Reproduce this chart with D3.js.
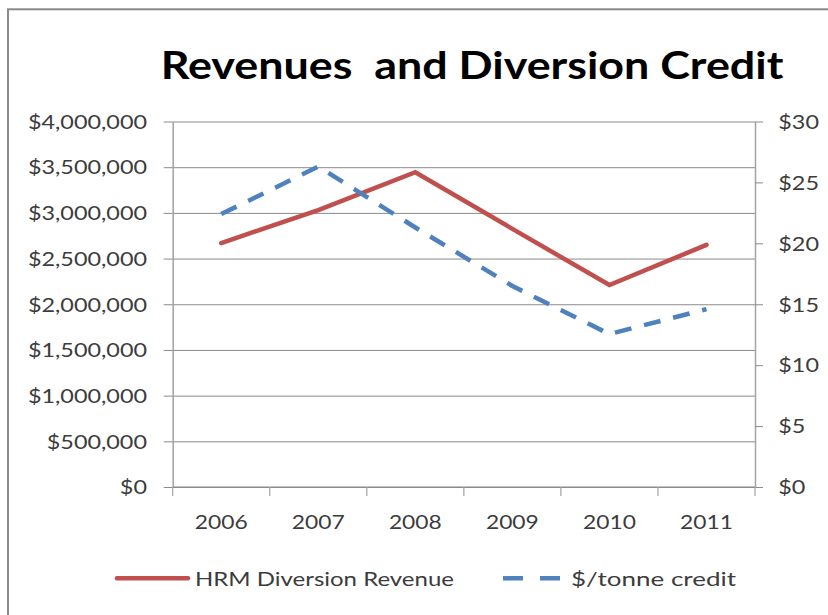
<!DOCTYPE html>
<html>
<head>
<meta charset="utf-8">
<script src="https://cdn.jsdelivr.net/npm/d3@7"></script>
<style>
  html, body { margin: 0; padding: 0; background: #fff; }
  svg { display: block; }
  text { font-family: Lato, "Open Sans", sans-serif; }
</style>
</head>
<body>
<svg id="chart" width="828" height="615"></svg>
<script>
// Chart data
const categories = ["2006", "2007", "2008", "2009", "2010", "2011"];
const revenue = [2670000, 3030000, 3445000, 2825000, 2210000, 2650000];   // HRM Diversion Revenue ($)
const credit = [22.4, 26.3, 21.3, 16.5, 12.55, 14.6];                     // $/tonne credit
const leftTicks = [0, 500000, 1000000, 1500000, 2000000, 2500000, 3000000, 3500000, 4000000];
const rightTicks = [0, 5, 10, 15, 20, 25, 30];
const seriesNames = ["HRM Diversion Revenue", "$/tonne credit"];
const titleText = "Revenues  and Diversion Credit";

const W = 828, H = 615;
const plot = { left: 172.7, right: 755, top: 121.5, bottom: 487 };
const stretch = 1.2;            // horizontal text widening
const axisGrey = "#a3a3a3", gridGrey = "#8a8a8a", labelColor = "#3c3c3c";
const red = "#c0504d", blue = "#4f81bd";

const svg = d3.select("#chart");
svg.append("rect").attr("width", W).attr("height", H).attr("fill", "#fff");

// outer frame
svg.append("rect")
  .attr("x", 8).attr("y", 9.3).attr("width", 840).attr("height", 640)
  .attr("fill", "none").attr("stroke", "#8a8a8a").attr("stroke-width", 2);

// scales
const x = d3.scaleBand().domain(categories).range([plot.left, plot.right]);
const cx = c => x(c) + x.bandwidth() / 2;
const yL = d3.scaleLinear().domain([0, 4000000]).range([plot.bottom, plot.top]);
const yR = d3.scaleLinear().domain([0, 30]).range([plot.bottom, plot.top]);

// gridlines
svg.append("g")
  .attr("transform", `translate(${plot.left},0)`)
  .call(d3.axisLeft(yL).tickValues(leftTicks).tickSize(-(plot.right - plot.left)).tickFormat(""))
  .call(g => g.select(".domain").remove())
  .call(g => g.selectAll("line").attr("stroke", gridGrey).attr("stroke-width", 1));

// left axis
const fmtL = d3.format("$,");
svg.append("g")
  .attr("transform", `translate(${plot.left},0)`)
  .call(d3.axisLeft(yL).tickValues(leftTicks).tickSize(9).tickSizeOuter(0).tickFormat(fmtL))
  .call(g => g.select(".domain").attr("stroke", axisGrey).attr("stroke-width", 1.5))
  .call(g => g.selectAll(".tick line").attr("stroke", gridGrey))
  .call(g => g.selectAll(".tick text")
    .attr("x", 0).attr("dy", null)
    .attr("transform", `translate(-25.7,6.8) scale(${stretch},1)`)
    .attr("fill", labelColor).attr("font-size", 19.5).attr("text-anchor", "end"));

// right axis
svg.append("g")
  .attr("transform", `translate(${plot.right},0)`)
  .call(d3.axisRight(yR).tickValues(rightTicks).tickSize(8).tickSizeOuter(0).tickFormat(d => "$" + d))
  .call(g => g.select(".domain").attr("stroke", axisGrey).attr("stroke-width", 1.5))
  .call(g => g.selectAll(".tick line").attr("stroke", gridGrey))
  .call(g => g.selectAll(".tick text")
    .attr("x", 0).attr("dy", null)
    .attr("transform", `translate(23.3,6.8) scale(${stretch},1)`)
    .attr("fill", labelColor).attr("font-size", 19.5).attr("text-anchor", "start"));

// bottom axis: line, boundary ticks, centered labels
const xAxis = svg.append("g").attr("transform", `translate(0,${plot.bottom})`);
xAxis.append("line")
  .attr("x1", plot.left).attr("x2", plot.right)
  .attr("stroke", gridGrey).attr("stroke-width", 1.2);
const bounds = categories.map(c => x(c)).concat([plot.right]);
xAxis.selectAll("line.bt").data(bounds).join("line")
  .attr("class", "bt")
  .attr("x1", d => d).attr("x2", d => d).attr("y1", 0).attr("y2", 9)
  .attr("stroke", axisGrey).attr("stroke-width", 1.2);
xAxis.selectAll("text").data(categories).join("text")
  .attr("transform", d => `translate(${cx(d)},42) scale(${stretch},1)`)
  .attr("text-anchor", "middle").attr("font-size", 19)
  .attr("fill", labelColor).text(d => d);

// series lines
const lineL = d3.line().x((d, i) => cx(categories[i])).y(d => yL(d));
const lineR = d3.line().x((d, i) => cx(categories[i])).y(d => yR(d));

svg.append("path").datum(revenue)
  .attr("d", lineL).attr("fill", "none")
  .attr("stroke", red).attr("stroke-width", 4.5)
  .attr("stroke-linejoin", "miter").attr("stroke-linecap", "round");

svg.append("path").datum(credit)
  .attr("d", lineR).attr("fill", "none")
  .attr("stroke", blue).attr("stroke-width", 4.5)
  .attr("stroke-dasharray", "17,13").attr("stroke-linecap", "butt");

// title
svg.append("text")
  .attr("transform", `translate(472,78.9) scale(1.18,1)`)
  .attr("text-anchor", "middle")
  .attr("font-size", 38).attr("font-weight", "bold").attr("fill", "#000")
  .style("white-space", "pre")
  .text(titleText);

// legend
const legend = svg.append("g");
legend.append("line")
  .attr("x1", 117).attr("x2", 188).attr("y1", 578.3).attr("y2", 578.3)
  .attr("stroke", red).attr("stroke-width", 4.5).attr("stroke-linecap", "round");
legend.append("text")
  .attr("transform", `translate(195,585.7) scale(${stretch},1)`)
  .attr("font-size", 20).attr("fill", labelColor).text(seriesNames[0]);
legend.append("line")
  .attr("x1", 503).attr("x2", 560).attr("y1", 578.3).attr("y2", 578.3)
  .attr("stroke", blue).attr("stroke-width", 4.5).attr("stroke-dasharray", "20,17");
legend.append("text")
  .attr("transform", `translate(571,585.7) scale(1.3,1)`)
  .attr("font-size", 20).attr("fill", labelColor).text(seriesNames[1]);
</script>
</body>
</html>
